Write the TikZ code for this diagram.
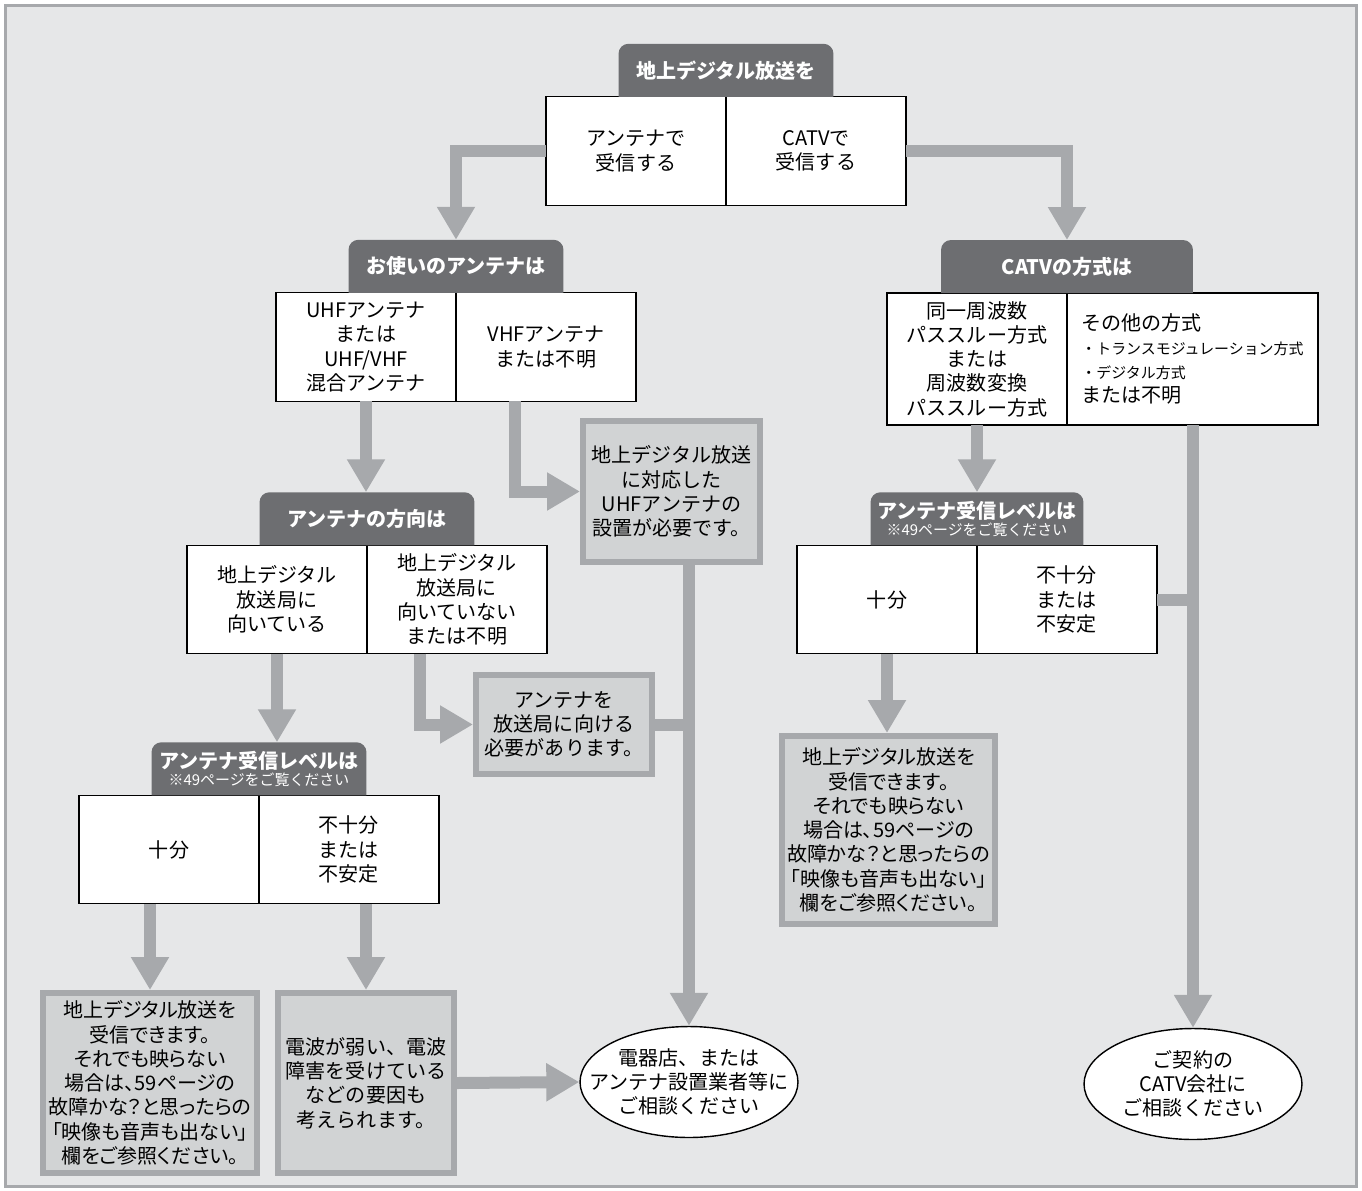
\documentclass[tikz,border=0pt]{standalone}
\usepackage{fontspec}
\setmainfont{Noto Sans CJK JP}
\newfontfamily\paltfont{Noto Sans CJK JP}[RawFeature=+palt]
\usetikzlibrary{shapes.geometric,arrows.meta,positioning}
\definecolor{bggray}{RGB}{230,231,232}
\definecolor{linegray}{RGB}{167,169,172}
\definecolor{tabgray}{RGB}{109,110,113}
\definecolor{resgray}{RGB}{209,211,212}
\newcommand{\boxfont}{\fontsize{11.4}{13.8}\selectfont}
\newcommand{\notefont}{\fontsize{8.5}{10}\selectfont}

\begin{document}
\begin{tikzpicture}[x=0.02cm, y=-0.02cm,
    choice/.style={draw, line width=0.8pt, fill=white, minimum width=3.6cm,
        minimum height=2.17cm, inner sep=0pt, outer sep=0pt, align=center, font=\boxfont},
    tab/.style={minimum width=4.3cm, minimum height=1.06cm, inner sep=0pt, outer sep=0pt,
        align=center, text=white, font=\boxfont\bfseries,
        path picture={\fill[tabgray, rounded corners=0.2cm]
            (path picture bounding box.south west) -- (path picture bounding box.north west)
            -- (path picture bounding box.north east) -- (path picture bounding box.south east);}},
    result/.style={draw=linegray, line width=0.12cm, fill=resgray, inner sep=0pt,
        align=center, font=\boxfont},
    goal/.style={ellipse, draw, line width=0.8pt, fill=white, minimum width=4.36cm,
        minimum height=2.22cm, inner xsep=0pt, inner ysep=0pt, align=center, font=\boxfont},
    flow/.style={draw=linegray, line width=0.24cm, -{Triangle[width=0.72cm, length=0.66cm]}},
    link/.style={draw=linegray, line width=0.24cm}
]
    \useasboundingbox (0,0) rectangle (1362,1190);
    \draw[linegray, line width=0.06cm, fill=bggray] (5.5,5.5) rectangle (1356.5,1186.5);

    % How is it received
    \node[choice] (q1l) at (636,151) {アンテナで\\受信する};
    \node[choice, right=0pt of q1l] (q1r) {CATVで\\受信する};
    \node[tab, above=0pt of q1l.north east] (q1) {地上デジタル放送を};

    % Antenna type
    \node[choice] (q2l) at (366,347) {UHFアンテナ\\または\\UHF/VHF\\混合アンテナ};
    \node[choice, right=0pt of q2l] (q2r) {VHFアンテナ\\または不明};
    \node[tab, above=0pt of q2l.north east] (q2) {お使いのアンテナは};

    % CATV type
    \node[choice, minimum height=2.64cm] (q3l) at (977,359) {同一周波数\\パススルー方式\\または\\周波数変換\\パススルー方式};
    \node[choice, minimum width=5.02cm, minimum height=2.64cm, right=0pt of q3l, align=left] (q3r)
        {その他の方式\\{\notefont ・トランスモジュレーション方式}\\{\notefont ・デジタル方式}\\または不明};
    \node[tab, minimum width=5.04cm, above=0pt of q3l.north east] (q3) {CATVの方式は};

    % Antenna direction
    \node[choice] (q4l) at (277,599.5) {地上デジタル\\放送局に\\向いている};
    \node[choice, right=0pt of q4l] (q4r) {地上デジタル\\放送局に\\向いていない\\または不明};
    \node[tab, above=0pt of q4l.north east] (q4) {アンテナの方向は};

    % Reception level (antenna)
    \node[choice] (q5l) at (169,849.5) {十分};
    \node[choice, right=0pt of q5l] (q5r) {不十分\\または\\不安定};
    \node[tab, above=0pt of q5l.north east] (q5) {アンテナ受信レベルは\\[-4pt]{\notefont\mdseries ※49ページをご覧ください}};

    % Reception level (CATV)
    \node[choice] (q6l) at (887,599.5) {十分};
    \node[choice, right=0pt of q6l] (q6r) {不十分\\または\\不安定};
    \node[tab, minimum width=4.26cm, above=0pt of q6l.north east] (q6) {アンテナ受信レベルは\\[-4pt]{\notefont\mdseries ※49ページをご覧ください}};

    % Results
    \node[result, minimum width=3.54cm, minimum height=2.82cm] (r1) at (671.5,491.5) {地上デジタル放送\\に対応した\\UHFアンテナの\\設置が必要です。};
    \node[result, minimum width=3.52cm, minimum height=1.98cm] (r2) at (564,724.5) {アンテナを\\放送局に向ける\\必要があります。};
    \node[result, minimum width=4.28cm, minimum height=3.6cm, font=\paltfont\boxfont] (r3) at (150,1083)
        {地上デジタル放送を\\受信できます。\\それでも映らない\\場合は、59ページの\\故障かな？と思ったらの\\「映像も音声も出ない」\\欄をご参照ください。};
    \node[result, minimum width=3.52cm, minimum height=3.6cm] (r4) at (366,1083) {電波が弱い、電波\\障害を受けている\\などの要因も\\考えられます。};
    \node[result, minimum width=4.26cm, minimum height=3.76cm, font=\paltfont\boxfont] (r5) at (888.5,830)
        {地上デジタル放送を\\受信できます。\\それでも映らない\\場合は、59ページの\\故障かな？と思ったらの\\「映像も音声も出ない」\\欄をご参照ください。};

    % Where to ask
    \node[goal, inner xsep=-0.47cm] (e1) at (689,1082) {電器店、または\\アンテナ設置業者等に\\ご相談ください};
    \node[goal] (e2) at (1193,1084) {ご契約の\\CATV会社に\\ご相談ください};

    % Arrows
    \draw[flow] (q1l.west) -| (q2.north);
    \draw[flow] (q1r.east) -| (q3.north);
    \draw[flow] (q2l.south) -- (q2l.south |- q4.north);
    \draw[flow] ([xshift=-0.62cm]q2r.south) |- (r1.west);
    \draw[flow] (q3l.south) -- (q3l.south |- q6.north);
    \draw[flow] (q4l.south) -- (q4l.south |- q5.north);
    \draw[flow] ([xshift=-0.74cm]q4r.south) |- (r2.west);
    \draw[flow] (r3.north |- q5l.south) -- (r3.north);
    \draw[flow] (r4.north |- q5r.south) -- (r4.north);
    \draw[flow] (q6l.south) -- (q6l.south |- r5.north);
    \draw[flow] (e1.north |- r1.south) -- (e1.north);
    \draw[link] (r2.east) -- (r2.east -| e1.north);
    \draw[flow] (r4.east) -- (e1.west);
    \draw[flow] (e2.north |- q3r.south) -- (e2.north);
    \draw[link] (q6r.east) -- (q6r.east -| e2.north);
\end{tikzpicture}
\end{document}
